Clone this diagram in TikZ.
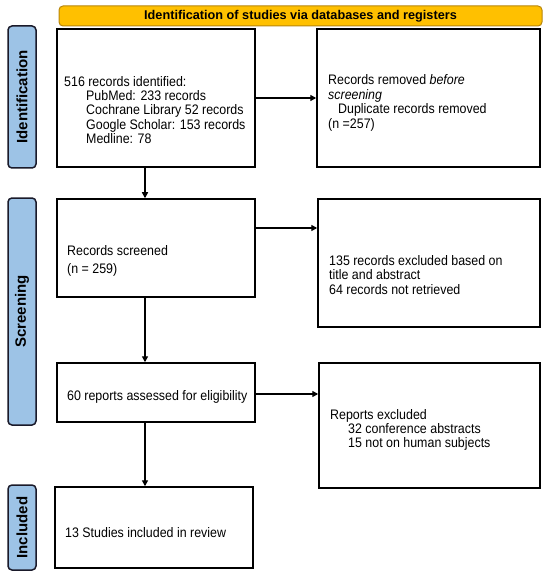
\documentclass[tikz,border=0pt]{standalone}
\usepackage{fontspec}
\setmainfont{Liberation Sans}
\newfontfamily\narrowfont{Liberation Sans}[FakeStretch=0.9]
\usetikzlibrary{arrows.meta}
\definecolor{bannerfill}{HTML}{FFC000}
\definecolor{bannerdraw}{HTML}{B8860B}
\definecolor{sidefill}{HTML}{9DC3E6}
\definecolor{sidedraw}{HTML}{1A1A2A}
\tikzset{
  box/.style={draw=black, line width=1.5pt, fill=white, inner sep=0pt},
  txt/.style={anchor=west, align=left, inner sep=0pt, font=\narrowfont\fontsize{13.8}{14.4}\selectfont},
  side/.style={draw=sidedraw, line width=1.5pt, fill=sidefill, rounded corners=4pt, inner sep=0pt},
  sidetxt/.style={rotate=90, font=\fontsize{15}{17}\selectfont\bfseries, inner sep=0pt},
  arr/.style={-{Triangle[length=6pt,width=6pt]}, line width=1.4pt},
}
\begin{document}
\begin{tikzpicture}[x=1pt,y=-1pt]
\useasboundingbox (0,0) rectangle (550,577);
% banner
\node[draw=bannerdraw, line width=1pt, fill=bannerfill, rounded corners=4pt, minimum width=483pt, minimum height=20pt, inner sep=0pt, font=\fontsize{12.7}{14}\selectfont\bfseries] (banner) at (300.5,16) {Identification of studies via databases and registers};
% side labels
\node[side, minimum width=28pt, minimum height=142pt] (sid) at (22,97) {};
\node[sidetxt] (sidt) at (sid.center) {Identification};
\node[side, minimum width=28pt, minimum height=227pt] (sscr) at (22,311.5) {};
\node[sidetxt] (sscrt) at (sscr.center) {Screening};
\node[side, minimum width=28pt, minimum height=85pt] (sinc) at (22,527.5) {};
\node[sidetxt] (sinct) at (sinc.center) {Included};
% boxes
\node[box, minimum width=198pt, minimum height=138pt] (b1) at (156,98) {};
\node[box, minimum width=223pt, minimum height=138pt] (b2) at (428.5,98) {};
\node[box, minimum width=198pt, minimum height=98pt] (b3) at (156,248) {};
\node[box, minimum width=222pt, minimum height=128pt] (b4) at (429,263) {};
\node[box, minimum width=198pt, minimum height=59pt] (b5) at (156,392.5) {};
\node[box, minimum width=221pt, minimum height=125pt] (b6) at (429.5,425.5) {};
\node[box, minimum width=198pt, minimum height=81pt] (b7) at (154,527.5) {};
% texts
\node[txt] (t1) at (64,110) {516 records identified:\\
\hspace*{22pt}PubMed: 233 records\\
\hspace*{22pt}Cochrane Library 52 records\\
\hspace*{22pt}Google Scholar: 153 records\\
\hspace*{22pt}Medline: 78};
\node[txt] (t2) at (328,103) {Records removed \textit{before}\\
\textit{screening}\\
\hspace*{10pt}Duplicate records removed\\
(n =257)};
\node[txt] (t3) at (67,261) {Records screened\\[3pt]
(n = 259)};
\node[txt] (t4) at (329,275) {135 records excluded based on\\
title and abstract\\
64 records not retrieved};
\node[txt] (t5) at (67,397) {60 reports assessed for eligibility};
\node[txt] (t6) at (330,430) {Reports excluded\\
\hspace*{18pt}32 conference abstracts\\
\hspace*{18pt}15 not on human subjects};
\node[txt] (t7) at (65,533) {13 Studies included in review};
% arrows
\draw[arr] (b1.east) -- (b2.west);
\draw[arr] (b1.south -| 145,0) -- (b3.north -| 145,0);
\draw[arr] (b3.east |- 0,228) -- (b4.west |- 0,228);
\draw[arr] (b3.south -| 145,0) -- (b5.north -| 145,0);
\draw[arr] (b5.east |- 0,394) -- (b6.west |- 0,394);
\draw[arr] (b5.south -| 145,0) -- (b7.north -| 145,0);
\end{tikzpicture}
\end{document}
